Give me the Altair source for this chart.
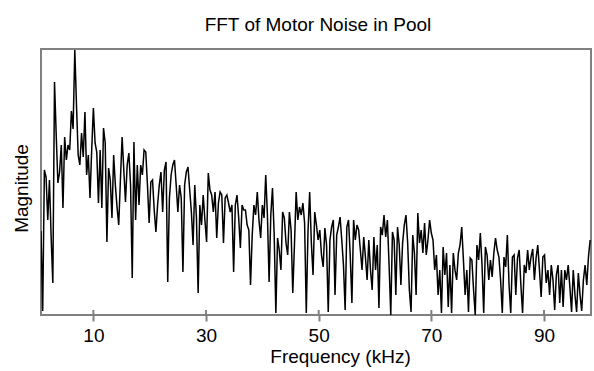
import altair as alt
import numpy as np
import pandas as pd

# FFT bins (kHz): first bin and bin spacing
FREQ_START_KHZ = 0.7
FREQ_STEP_KHZ = 0.3

# Magnitude (arbitrary units), one value per bin
magnitude = [
    84, 4, 145, 138, 95, 135, 78, 32, 233, 180,
    132, 143, 170, 107, 178, 155, 170, 165, 204, 186,
    265, 210, 160, 150, 182, 158, 203, 140, 160, 117,
    165, 207, 172, 163, 112, 165, 107, 187, 172, 73,
    147, 135, 97, 160, 130, 108, 90, 135, 178, 145,
    113, 150, 162, 130, 37, 173, 95, 150, 110, 150,
    140, 165, 163, 130, 92, 133, 135, 105, 83, 110,
    130, 143, 103, 145, 153, 33, 117, 140, 150, 155,
    130, 103, 130, 117, 43, 130, 143, 148, 125, 103,
    70, 130, 97, 22, 110, 90, 120, 95, 73, 142,
    125, 120, 103, 123, 77, 112, 123, 120, 72, 117,
    120, 112, 103, 110, 43, 110, 120, 97, 67, 110,
    105, 105, 90, 85, 30, 80, 110, 100, 123, 95,
    77, 110, 97, 140, 100, 33, 100, 127, 80, 2,
    77, 65, 45, 103, 97, 72, 60, 103, 85, 22,
    70, 123, 95, 108, 100, 112, 92, 2, 83, 123,
    72, 40, 103, 90, 75, 85, 60, 48, 87, 70,
    3, 75, 88, 95, 20, 80, 88, 98, 75, 50,
    5, 88, 95, 60, 12, 95, 75, 90, 85, 65,
    45, 78, 58, 35, 75, 45, 25, 78, 45, 70,
    7, 88, 80, 100, 78, 95, 50, 0, 83, 75,
    20, 88, 70, 30, 72, 90, 100, 72, 25, 3,
    80, 62, 20, 102, 72, 85, 62, 92, 60, 75,
    95, 82, 75, 45, 60, 20, 45, 2, 68, 40,
    62, 8, 50, 2, 62, 45, 35, 62, 70, 88,
    55, 20, 45, 3, 57, 55, 25, 0, 70, 55,
    82, 50, 2, 68, 60, 35, 55, 38, 62, 77,
    65, 58, 35, 2, 58, 48, 80, 30, 2, 58,
    60, 20, 57, 65, 30, 2, 50, 42, 65, 45,
    58, 66, 35, 57, 70, 45, 18, 58, 60, 32,
    45, 20, 50, 35, 5, 40, 50, 12, 45, 8,
    45, 35, 50, 28, 3, 45, 20, 3, 42, 20,
    4, 35, 50, 30, 58, 75,
]

tick_values = [10, 30, 50, 70, 90]
x_domain = [0.7, 98.35]
y_domain = [0, 266]

freq = np.round(FREQ_START_KHZ + FREQ_STEP_KHZ * np.arange(len(magnitude)), 2)
df = pd.DataFrame({"freq": freq, "mag": magnitude})
ticks_df = pd.DataFrame({"freq": tick_values})

FONT = "Liberation Sans"
GRAY = "#808080"

x_scale = alt.Scale(domain=x_domain, nice=False, zero=False)

line = alt.Chart(df).mark_line(color="black", strokeWidth=1.5, clip=True).encode(
    x=alt.X(
        "freq:Q",
        scale=x_scale,
        axis=alt.Axis(
            values=tick_values,
            format="d",
            title="Frequency (kHz)",
            grid=False,
            domain=False,
            ticks=True,
            tickColor=GRAY,
            tickWidth=2,
            tickSize=6,
            labelFont=FONT,
            labelFontSize=19,
            labelColor="black",
            labelPadding=5,
            labelFlush=False,
            titleFont=FONT,
            titleFontSize=19,
            titleFontWeight="normal",
            titleColor="black",
            titleBaseline="alphabetic",
            titleAlign="center",
            titleX=299,
            titleY=47,
        ),
    ),
    y=alt.Y(
        "mag:Q",
        scale=alt.Scale(domain=y_domain, nice=False),
        axis=alt.Axis(
            title="Magnitude",
            labels=False,
            ticks=False,
            domain=False,
            grid=False,
            titleFont=FONT,
            titleFontSize=19,
            titleFontWeight="normal",
            titleColor="black",
            titleAngle=270,
            titleBaseline="alphabetic",
            titleAlign="center",
            titleX=-14,
            titleY=139,
        ),
    ),
)

inner_ticks = alt.Chart(ticks_df).mark_rule(color=GRAY, strokeWidth=2).encode(
    x=alt.X("freq:Q", scale=x_scale),
    y=alt.value(261),
    y2=alt.value(266),
)

chart = (
    alt.layer(line, inner_ticks)
    .properties(
        width=550,
        height=266,
        autosize=alt.AutoSizeParams(type="none"),
        padding={"left": 41, "top": 49, "right": 3, "bottom": 56},
        background="white",
        title=alt.TitleParams(
            "FFT of Motor Noise in Pool",
            font=FONT,
            fontSize=19,
            fontWeight="normal",
            color="black",
            anchor="middle",
            baseline="alphabetic",
            offset=18,
            dx=2,
            dy=19,
        ),
    )
    .configure_view(stroke=GRAY, strokeWidth=2)
)

chart.save("out.html", embed_options={"renderer": "svg", "actions": False})
